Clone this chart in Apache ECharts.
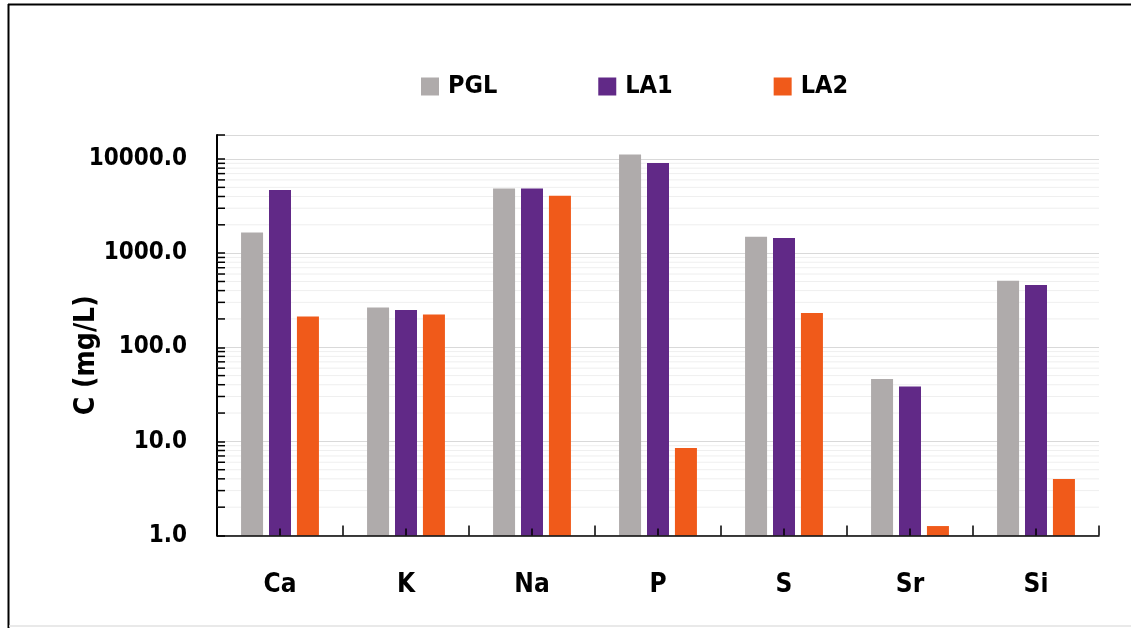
<!DOCTYPE html>
<html>
<head>
<meta charset="utf-8">
<script src="https://cdn.jsdelivr.net/npm/echarts@6/dist/echarts.min.js"></script>
<style>
  html, body { margin: 0; padding: 0; background: #ffffff; }
  #chart { width: 1131px; height: 628px; }
</style>
</head>
<body>
<div id="chart"></div>
<script>
// Element concentrations (mg/L) for three solutions, log scale
const elements = ['Ca', 'K', 'Na', 'P', 'S', 'Sr', 'Si'];
const pgl = [1660, 265, 4870, 11200, 1490, 46, 510];
const la1 = [4700, 249, 4870, 9070, 1450, 38.3, 458];
const la2 = [212, 223, 4080, 8.5, 231, 1.26, 3.98];
const seriesNames = ['PGL', 'LA1', 'LA2'];
// Minor grid values between decades
const minorValues = [
  2, 3, 4, 5, 6, 7, 8, 9,
  20, 30, 40, 50, 60, 70, 80, 90,
  200, 300, 400, 500, 600, 700, 800, 900,
  2000, 3000, 4000, 5000, 6000, 7000, 8000, 9000
];
const yMin = 1;
const yMax = 18000;

const FONT = '"DejaVu Sans Condensed", "Liberation Sans Narrow", "Open Sans", sans-serif';
const colors = ['#AFABAB', '#612987', '#F05A1A'];

const chart = echarts.init(document.getElementById('chart'), null, { renderer: 'canvas' });

function isDecade(v) {
  const l = Math.log10(v);
  return Math.abs(l - Math.round(l)) < 1e-9;
}

const barSeries = [pgl, la1, la2].map((vals, i) => ({
  name: seriesNames[i],
  type: 'bar',
  data: vals,
  barWidth: 22,
  barGap: '27%',
  itemStyle: { color: colors[i] },
  z: 3
}));

const option = {
  animation: false,
  backgroundColor: '#ffffff',
  textStyle: { fontFamily: FONT },
  legend: {
    data: seriesNames,
    top: 74,
    left: 421,
    padding: 0,
    itemWidth: 18,
    itemHeight: 18,
    itemGap: 101,
    icon: 'rect',
    textStyle: { fontFamily: FONT, fontSize: 25, fontWeight: 'bold', color: '#000', padding: [0, 0, 0, 4] }
  },
  grid: { left: 217, right: 32, top: 135, bottom: 92.5, containLabel: false },
  xAxis: [
    {
      type: 'category',
      data: elements,
      boundaryGap: true,
      z: 10,
      axisLine: { lineStyle: { color: '#000', width: 1.5 } },
      axisTick: { show: true, inside: true, length: 10, interval: 0, lineStyle: { color: '#000', width: 1.5 } },
      axisLabel: { fontFamily: FONT, fontSize: 26, fontWeight: 'bold', color: '#000', margin: 37 },
      splitLine: { show: false }
    },
    {
      type: 'category',
      data: elements,
      position: 'bottom',
      boundaryGap: true,
      z: 10,
      axisLine: { show: false },
      axisTick: { show: true, inside: true, length: 7, interval: 0, alignWithLabel: true, lineStyle: { color: '#000', width: 1.5 } },
      axisLabel: { show: false },
      splitLine: { show: false }
    }
  ],
  yAxis: {
    type: 'log',
    logBase: 10,
    min: yMin,
    max: yMax,
    name: 'C (mg/L)',
    nameLocation: 'middle',
    nameRotate: 90,
    nameGap: 116,
    nameMoveOverlap: false,
    nameTextStyle: { fontFamily: FONT, fontSize: 28, fontWeight: 'bold', color: '#000', padding: [0, 40, 0, 0] },
    axisLine: { show: true, lineStyle: { color: '#000', width: 2 } },
    axisTick: { show: true, inside: true, length: 8, lineStyle: { color: '#000', width: 1.5 } },
    axisLabel: {
      fontFamily: FONT, fontSize: 24, fontWeight: 'bold', color: '#000', margin: 30,
      formatter: v => (isDecade(v) ? v.toFixed(1) : '')
    },
    splitLine: { show: true, lineStyle: { color: '#D9D9D9', width: 1 } }
  },
  series: [
    {
      name: 'minor',
      type: 'custom',
      silent: true,
      z: 1,
      data: minorValues.map(v => [0, v]),
      renderItem: function (params, api) {
        const p = api.coord([0, api.value(1)]);
        const cs = params.coordSys;
        return {
          type: 'group',
          children: [
            { type: 'line', shape: { x1: cs.x, y1: p[1], x2: cs.x + cs.width, y2: p[1] },
              style: { stroke: '#EFEFEF', lineWidth: 1 } },
            { type: 'line', shape: { x1: cs.x, y1: p[1], x2: cs.x + 8, y2: p[1] },
              style: { stroke: '#000', lineWidth: 1.5 } }
          ]
        };
      }
    }
  ].concat(barSeries),
  graphic: [
    { type: 'line', shape: { x1: 8, y1: 4.5, x2: 1131, y2: 4.5 }, style: { stroke: '#000', lineWidth: 2 }, silent: true },
    { type: 'line', shape: { x1: 8.5, y1: 4, x2: 8.5, y2: 628 }, style: { stroke: '#000', lineWidth: 2 }, silent: true },
    { type: 'line', shape: { x1: 9, y1: 626, x2: 1131, y2: 626 }, style: { stroke: '#E2E2E2', lineWidth: 1.5 }, silent: true }
  ]
};

chart.setOption(option);
</script>
</body>
</html>
